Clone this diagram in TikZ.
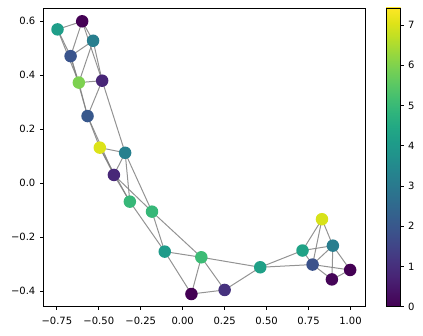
\documentclass[tikz,border=0pt]{standalone}
\usepackage{fontspec}
\setmainfont{DejaVu Sans}
\usetikzlibrary{backgrounds}
% viridis stops
\definecolor{v0}{RGB}{68,1,84}
\definecolor{v1}{RGB}{71,18,101}
\definecolor{v2}{RGB}{72,36,117}
\definecolor{v3}{RGB}{70,51,127}
\definecolor{v4}{RGB}{65,68,135}
\definecolor{v5}{RGB}{59,82,139}
\definecolor{v6}{RGB}{53,95,141}
\definecolor{v7}{RGB}{47,108,142}
\definecolor{v8}{RGB}{42,120,142}
\definecolor{v9}{RGB}{37,132,142}
\definecolor{v10}{RGB}{33,145,140}
\definecolor{v11}{RGB}{30,156,137}
\definecolor{v12}{RGB}{34,168,132}
\definecolor{v13}{RGB}{47,180,124}
\definecolor{v14}{RGB}{68,191,112}
\definecolor{v15}{RGB}{94,201,98}
\definecolor{v16}{RGB}{122,209,81}
\definecolor{v17}{RGB}{154,216,60}
\definecolor{v18}{RGB}{189,223,38}
\definecolor{v19}{RGB}{223,227,24}
\definecolor{v20}{RGB}{253,231,37}
% node colours
\definecolor{cA}{RGB}{31,158,137}
\definecolor{cB}{RGB}{68,1,84}
\definecolor{cC}{RGB}{40,126,142}
\definecolor{cD}{RGB}{58,84,140}
\definecolor{cE}{RGB}{125,209,80}
\definecolor{cF}{RGB}{72,38,119}
\definecolor{cG}{RGB}{56,88,140}
\definecolor{cH}{RGB}{220,227,25}
\definecolor{cI}{RGB}{38,128,142}
\definecolor{cJ}{RGB}{72,40,120}
\definecolor{cK}{RGB}{55,183,120}
\definecolor{cL}{RGB}{55,183,120}
\definecolor{cM}{RGB}{31,155,138}
\definecolor{cN}{RGB}{60,187,117}
\definecolor{cO}{RGB}{68,1,84}
\definecolor{cP}{RGB}{70,50,126}
\definecolor{cQ}{RGB}{32,160,135}
\definecolor{cR}{RGB}{32,162,134}
\definecolor{cS}{RGB}{215,226,26}
\definecolor{cT}{RGB}{40,125,142}
\definecolor{cU}{RGB}{59,82,139}
\definecolor{cV}{RGB}{68,1,84}
\definecolor{cW}{RGB}{69,5,88}
\definecolor{edgegray}{RGB}{128,128,128}
\begin{document}
\begin{tikzpicture}[x=1pt,y=1pt,
  every node/.style={inner sep=0pt, font=\fontsize{10}{12}\selectfont},
  gnode/.style={circle, minimum size=12.5pt, draw=none},
  gedge/.style={draw=edgegray, draw opacity=0.85, line width=1pt},
  tickmark/.style={line width=0.8pt},
  framebox/.style={line width=0.8pt}]
\useasboundingbox (0,0) rectangle (423,335);

% ---- graph in data coordinates ----
\begin{scope}[shift={(182.7,151.7)}, x=167.8pt, y=270pt]
\node[gnode, fill=cA] (A) at (-0.746, 0.570) {};
\node[gnode, fill=cB] (B) at (-0.599, 0.600) {};
\node[gnode, fill=cC] (C) at (-0.534, 0.528) {};
\node[gnode, fill=cD] (D) at (-0.668, 0.471) {};
\node[gnode, fill=cE] (E) at (-0.619, 0.373) {};
\node[gnode, fill=cF] (F) at (-0.480, 0.380) {};
\node[gnode, fill=cG] (G) at (-0.567, 0.249) {};
\node[gnode, fill=cH] (H) at (-0.494, 0.132) {};
\node[gnode, fill=cI] (I) at (-0.343, 0.113) {};
\node[gnode, fill=cJ] (J) at (-0.410, 0.031) {};
\node[gnode, fill=cK] (K) at (-0.315, -0.068) {};
\node[gnode, fill=cL] (L) at (-0.183, -0.105) {};
\node[gnode, fill=cM] (M) at (-0.107, -0.253) {};
\node[gnode, fill=cN] (N) at (0.111, -0.274) {};
\node[gnode, fill=cO] (O) at (0.052, -0.410) {};
\node[gnode, fill=cP] (P) at (0.250, -0.395) {};
\node[gnode, fill=cQ] (Q) at (0.462, -0.311) {};
\node[gnode, fill=cR] (R) at (0.714, -0.249) {};
\node[gnode, fill=cS] (S) at (0.830, -0.133) {};
\node[gnode, fill=cT] (T) at (0.895, -0.231) {};
\node[gnode, fill=cU] (U) at (0.774, -0.301) {};
\node[gnode, fill=cV] (V) at (0.998, -0.321) {};
\node[gnode, fill=cW] (W) at (0.889, -0.356) {};
\begin{pgfonlayer}{background}
\foreach \a/\b in {A/B, A/D, A/E, B/C, B/D, B/F, C/D, C/E, C/F, D/E, D/G,
  E/F, E/G, F/G, F/I, G/H, G/J, H/I, H/J, H/K, I/J, I/K, I/L, J/K, J/L,
  K/M, L/M, L/N, M/N, M/O, N/O, N/P, N/Q, O/P, P/Q, Q/R, Q/U, R/S, R/T,
  R/U, S/T, S/U, T/U, T/V, T/W, U/V, U/W, V/W}
  \draw[gedge] (\a.center) -- (\b.center);
\end{pgfonlayer}
\end{scope}

% ---- axes frame ----
\draw[framebox] (43,28.3) rectangle (365.7,327);
% x ticks
\foreach \v/\t [count=\k] in {-0.75/−0.75, -0.50/−0.50, -0.25/−0.25, 0.00/0.00, 0.25/0.25, 0.50/0.50, 0.75/0.75, 1.00/1.00} {
  \draw[tickmark] ({182.7+167.8*\v},28.3) -- ({182.7+167.8*\v},24.8);
  \node[anchor=base] (xt\k) at ({182.7+167.8*\v},11) {\t};
}
% y ticks
\foreach \v/\t [count=\k] in {-0.4/−0.4, -0.2/−0.2, 0.0/0.0, 0.2/0.2, 0.4/0.4, 0.6/0.6} {
  \draw[tickmark] (43,{151.7+270*\v}) -- (39.5,{151.7+270*\v});
  \node[anchor=east] (yt\k) at (35.5,{151.7+270*\v}) {\t};
}

% ---- colorbar ----
\foreach \i [evaluate=\i as \j using int(\i+1)] in {0,...,19} {
  \shade[bottom color=v\i, top color=v\j] (386,{28.3+\i*14.935-0.2}) rectangle (400.7,{28.3+\j*14.935+0.2});
}
\draw[framebox] (386,28.3) rectangle (400.7,327);
\foreach \k in {0,...,7} {
  \draw[tickmark] (400.7,{28.3+\k*40.24}) -- (404.2,{28.3+\k*40.24});
  \node[anchor=west] (ct\k) at (408,{28.3+\k*40.24}) {\k};
}
\end{tikzpicture}
\end{document}
